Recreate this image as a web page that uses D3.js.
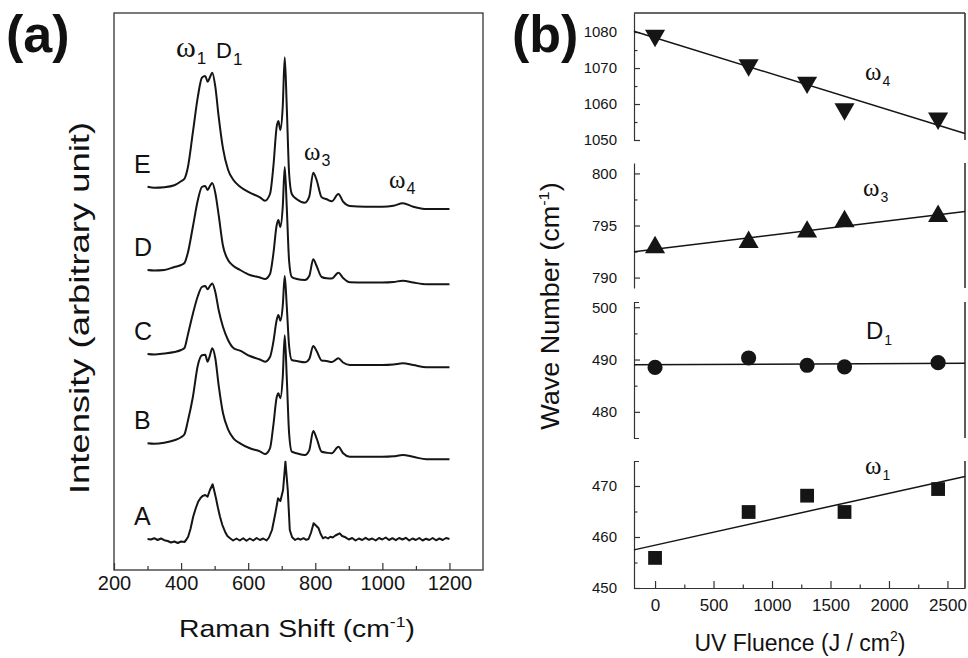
<!DOCTYPE html>
<html>
<head>
<meta charset="utf-8">
<script src="https://cdn.jsdelivr.net/npm/d3@7"></script>
<style>
  body { margin: 0; background: #fff; }
  svg { display: block; }
  text { font-family: "Liberation Sans", Arial, sans-serif; fill: #111; }
</style>
</head>
<body>
<div id="chart"></div>
<script>
// ---- panel (a): Raman spectra, net intensity above each trace's offset (a.u.)
const shifts = [300, 320, 350, 380, 400, 410, 420, 435, 450, 462, 472, 479, 486, 493, 502, 512, 525, 540, 556, 576,
  605, 635, 650, 665, 675, 685, 690, 696, 703, 709, 715, 722, 730, 745, 769, 782, 794, 804, 819, 834,
  849, 869, 883, 903, 950, 1000, 1033, 1061, 1092, 1132, 1170, 1200];

const spectrumE = [0, -1, -0.5, 1.5, 5.5, 8, 19, 54, 90, 109, 110.7, 105, 109.4, 114, 100, 70, 38, 17, 6.7, 0,
  -6, -10.6, -14, -7.3, 20, 60, 65.7, 56.7, 80, 129.4, 80, 13.4, -7.3, -12.6, -16, -10, 14, 6.7, -10.6, -12.6,
  -14.6, -7.3, -15, -19.3, -20, -20, -19, -16.6, -20, -22.3, -22.3, -22.3];
const spectrumD = [0, -0.5, 0, 3, 5, 7, 17, 43, 70, 83, 84, 80, 84, 87, 77, 55, 24, 10, 4, 0,
  -5, -7.5, -9, -4, 16, 45, 50, 43, 63, 103, 63, 9, -7, -9, -10, -6, 10.7, 4, -7, -8.3,
  -8.5, -2.7, -8, -12.3, -12.5, -12.5, -12, -10.7, -12.5, -14.3, -14.3, -14.3];
const spectrumC = [0, -0.5, 0.5, 2, 4, 6, 19, 40, 58, 67, 68, 64.7, 68, 70.6, 62, 44, 27, 14, 6, 3.3,
  -2, -5.5, -7.7, -3, 12, 34, 39, 33.3, 48, 78, 48, 8, -6, -7, -8.3, -5, 8, 3, -6.5, -7,
  -8, -4.3, -8.5, -11, -11, -11, -10.5, -9.3, -11, -13.3, -13.3, -13.3];
const spectrumB = [0, -0.5, 0.5, 3, 6, 9, 22, 46, 78, 88, 88.5, 81.6, 88, 95, 85, 58, 30, 14, 5, 0,
  -5, -8, -10.7, -5, 18, 46, 50, 45, 66, 108, 66, 10, -8.4, -10, -11.7, -7, 12.3, 5, -8.5, -9.4,
  -10, -3.4, -10, -13.4, -13.5, -13.5, -13, -11.7, -13.5, -16, -16, -16];

// trace A is noisy, so it is read on its own finer grid
const shiftsA = [300, 310, 320, 330, 340, 350, 360, 370, 380, 390, 400, 410, 415, 421, 428, 436, 444, 451, 458, 464,
  472, 479, 486, 494, 499, 504, 510, 516, 523, 531, 538, 546, 555, 565, 575, 585, 595, 605, 615, 625,
  635, 645, 655, 662, 671, 681, 689, 696, 704, 711, 718, 724, 731, 740, 748, 756, 765, 773, 780, 787,
  795, 802, 810, 816, 823, 830, 838, 845, 852, 860, 866, 873, 880, 890, 900, 910, 920, 930, 940, 950,
  960, 970, 980, 990, 1000, 1010, 1020, 1030, 1040, 1050, 1060, 1070, 1080, 1090, 1100, 1110, 1120, 1130, 1140, 1150,
  1160, 1170, 1180, 1190, 1200];
const spectrumA = [0, -0.5, 0.8, -1, 0.5, -1.2, -2, -3.5, -2.5, -4, -2.5, -3, -1, 2.3, 10, 22.3, 31, 37.3, 41, 43,
  44, 42.3, 49, 54.7, 48, 40.7, 31, 22.3, 14, 7.3, 3, 0.7, -1.5, 0.5, -1.5, 0.8, -1.8, 0.5, -1.5, 1,
  -1, 0.5, -1.5, 1.5, 9, 25.7, 40.7, 38, 49, 77.3, 49, 9, 1.7, -1, 0.5, -0.7, 0.8, -0.8, 0, 6,
  15.7, 13.5, 10.7, 5, 0.7, 2, 0.5, 2.3, 1.5, 3.5, 4.5, 5.7, 3, 1.7, -0.5, 1, -1.5, 0.5, -1, 1.2,
  -0.8, 0.5, -1.5, 1, -0.5, 1.5, -1, 0.8, -1.2, 1, -0.5, 1.2, -1.5, 0.5, -1, 1, -1.5, 0.3, -1, 1,
  -1.3, 0.5, -1, 1, 0];

const traceLabels = ["A", "B", "C", "D", "E"];
const traceOffsets = [31, 126.7, 216, 300, 383.3];
const ramanTicks = [200, 400, 600, 800, 1000, 1200];
const ramanMinorTicks = [300, 500, 700, 900, 1100];

// ---- panel (b): peak positions vs UV fluence
const fluence = [0, 800, 1300, 1620, 2420];
const omega4 = [1079, 1070.8, 1066, 1058.6, 1056];
const omega3 = [792.9, 793.4, 794.4, 795.4, 795.9];
const peakD1 = [488.5, 490.3, 488.9, 488.6, 489.4];
const omega1 = [455.9, 464.9, 468.1, 464.9, 469.4];
const fluenceTicks = [0, 500, 1000, 1500, 2000, 2500];
const fluenceMinorTicks = [250, 750, 1250, 1750, 2250];

const svg = d3.select("#chart").append("svg").attr("width", 968).attr("height", 658);
const ink = "#151515";
const sans = "Liberation Sans, Arial, sans-serif";
const plain = d3.format("d");

// ================= panel (a)
const xa = d3.scaleLinear().domain([200, 1300]).range([114, 483]);
const ya = d3.scaleLinear().domain([0, 557]).range([570, 13]);

const gA = svg.append("g");

gA.append("rect")
  .attr("x", xa(200)).attr("y", ya(557))
  .attr("width", xa(1300) - xa(200)).attr("height", ya(0) - ya(557))
  .style("fill", "none").style("stroke", "#333").style("stroke-width", 1.3);

const axA = gA.append("g")
  .attr("transform", `translate(0,${ya(0)})`)
  .call(d3.axisBottom(xa).tickValues(ramanTicks).tickFormat(plain).tickSize(-7).tickPadding(6));
axA.select(".domain").remove();
axA.selectAll("text").style("font-size", "20px").style("font-family", sans).style("fill", ink);
axA.selectAll("line").style("stroke", "#333").style("stroke-width", 1.2);

const axAm = gA.append("g")
  .attr("transform", `translate(0,${ya(0)})`)
  .call(d3.axisBottom(xa).tickValues(ramanMinorTicks).tickSize(-4).tickFormat(""));
axAm.select(".domain").remove();
axAm.selectAll("line").style("stroke", "#333").style("stroke-width", 1.2);

const lineA = d3.line().x(d => xa(d[0])).y(d => ya(d[1]));
const smoothA = d3.line().x(d => xa(d[0])).y(d => ya(d[1])).curve(d3.curveMonotoneX);

const traces = [
  { xs: shiftsA, ys: spectrumA, gen: lineA },
  { xs: shifts, ys: spectrumB, gen: smoothA },
  { xs: shifts, ys: spectrumC, gen: smoothA },
  { xs: shifts, ys: spectrumD, gen: smoothA },
  { xs: shifts, ys: spectrumE, gen: smoothA },
];

traces.forEach((t, k) => {
  const pts = t.xs.map((s, i) => [s, t.ys[i] + traceOffsets[k]]);
  gA.append("path")
    .attr("d", t.gen(pts))
    .style("fill", "none")
    .style("stroke", ink)
    .style("stroke-width", 2)
    .style("stroke-linejoin", "round");

  gA.append("text")
    .attr("x", 134)
    .attr("y", ya(traceOffsets[k]) - 14)
    .style("font-size", "25px")
    .text(traceLabels[k]);
});

// peak labels
function peakLabel(g, x, y, sym, sub, symSize, subSize, serif) {
  const t = g.append("text").attr("x", x).attr("y", y);
  t.append("tspan")
    .style("font-family", serif ? "Liberation Serif, serif" : sans)
    .style("font-size", symSize + "px")
    .text(sym);
  t.append("tspan")
    .attr("dy", subSize * 0.4)
    .attr("dx", 1)
    .style("font-size", subSize + "px")
    .text(sub);
}
peakLabel(gA, 176, 57, "\u03c9", "1", 30, 17, true);
peakLabel(gA, 216, 58, "D", "1", 22, 17, false);
peakLabel(gA, 304, 160, "\u03c9", "3", 25, 16, true);
peakLabel(gA, 389, 188, "\u03c9", "4", 25, 16, true);

// axis titles
const titleA = svg.append("text")
  .attr("text-anchor", "middle")
  .attr("transform", "translate(297,637) scale(1.18,1)")
  .style("font-size", "24px");
titleA.append("tspan").text("Raman Shift (cm");
titleA.append("tspan").attr("dy", -10).style("font-size", "15px").text("-1");
titleA.append("tspan").attr("dy", 10).text(")");

svg.append("text")
  .attr("text-anchor", "middle")
  .attr("transform", "translate(89,308) rotate(-90) scale(1.3,1)")
  .style("font-size", "28px")
  .text("Intensity (arbitrary unit)");

svg.append("text").attr("x", 6).attr("y", 52)
  .style("font-size", "52px").style("font-weight", "bold").text("(a)");

// ================= panel (b)
const xb = d3.scaleLinear().domain([-180, 2650]).range([634, 965]);
const gB = svg.append("g");

const subplots = [
  { ys: omega4, domain: [1050, 1085.3], range: [140, 13], ticks: [1050, 1060, 1070, 1080], minor: [1055, 1065, 1075],
    symbol: d3.symbolTriangle, size: 175, rotate: 180, cap: 0, label: ["\u03c9", "4"], lx: 865, ly: 80 },
  { ys: omega3, domain: [789, 801], range: [288, 163], ticks: [790, 795, 800], minor: [792.5, 797.5],
    symbol: d3.symbolTriangle, size: 175, rotate: 0, cap: 0, label: ["\u03c9", "3"], lx: 863, ly: 196 },
  { ys: peakD1, domain: [475, 501], range: [438, 302], ticks: [480, 490, 500], minor: [485, 495],
    symbol: d3.symbolCircle, size: 180, rotate: 0, cap: -5, label: ["D", "1"], lx: 866, ly: 339 },
  { ys: omega1, domain: [450, 474.9], range: [588, 461], ticks: [450, 460, 470], minor: [455, 465],
    symbol: d3.symbolSquare, size: 190, rotate: 0, cap: -5, label: ["\u03c9", "1"], lx: 865, ly: 474 },
];

subplots.forEach(p => {
  const yb = d3.scaleLinear().domain(p.domain).range(p.range);

  const ax = gB.append("g")
    .attr("transform", `translate(${xb.range()[0]},0)`)
    .call(d3.axisLeft(yb).tickValues(p.ticks).tickFormat(plain).tickSizeInner(-6).tickSizeOuter(p.cap).tickPadding(17));
  ax.selectAll("text").style("font-size", "15px").style("font-family", sans).style("fill", ink);
  ax.selectAll("line, path").style("stroke", "#333").style("stroke-width", 1.2);

  const axm = gB.append("g")
    .attr("transform", `translate(${xb.range()[0]},0)`)
    .call(d3.axisLeft(yb).tickValues(p.minor).tickSize(-3.5).tickFormat(""));
  axm.select(".domain").remove();
  axm.selectAll("line").style("stroke", "#333").style("stroke-width", 1.2);

  // right border
  gB.append("line")
    .attr("x1", xb.range()[1]).attr("x2", xb.range()[1])
    .attr("y1", yb.range()[0]).attr("y2", yb.range()[1])
    .style("stroke", "#333").style("stroke-width", 1.6);

  // least-squares fit line
  const mx = d3.mean(fluence), my = d3.mean(p.ys);
  const slope = d3.sum(fluence, (f, i) => (f - mx) * (p.ys[i] - my)) / d3.sum(fluence, f => (f - mx) ** 2);
  const fit = xb.domain().map(f => [f, my + slope * (f - mx)]);
  gB.append("path")
    .attr("d", d3.line().x(d => xb(d[0])).y(d => yb(d[1]))(fit))
    .style("fill", "none").style("stroke", ink).style("stroke-width", 1.5);

  gB.selectAll(null)
    .data(fluence)
    .enter()
    .append("path")
    .attr("d", d3.symbol().type(p.symbol).size(p.size))
    .attr("transform", (f, i) => `translate(${xb(f)},${yb(p.ys[i])}) rotate(${p.rotate})`)
    .style("fill", ink);

  const isD = p.label[0] === "D";
  peakLabel(gB, p.lx, p.ly, p.label[0], p.label[1], isD ? 24 : 25, 14, !isD);
});

// top border of upper plot
gB.append("line")
  .attr("x1", xb.range()[0]).attr("x2", xb.range()[1])
  .attr("y1", 13).attr("y2", 13)
  .style("stroke", "#333").style("stroke-width", 1.3);

const axB = gB.append("g")
  .attr("transform", "translate(0,588)")
  .call(d3.axisBottom(xb).tickValues(fluenceTicks).tickFormat(plain).tickSizeInner(-7).tickSizeOuter(0).tickPadding(11));
axB.selectAll("text").style("font-size", "17px").style("font-family", sans).style("fill", ink);
axB.selectAll("line, path").style("stroke", "#333").style("stroke-width", 1.2);

const axBm = gB.append("g")
  .attr("transform", "translate(0,588)")
  .call(d3.axisBottom(xb).tickValues(fluenceMinorTicks).tickSize(-3.5).tickFormat(""));
axBm.select(".domain").remove();
axBm.selectAll("line").style("stroke", "#333").style("stroke-width", 1.2);

const titleB = svg.append("text")
  .attr("text-anchor", "middle")
  .attr("x", 800).attr("y", 651)
  .style("font-size", "23px");
titleB.append("tspan").text("UV Fluence (J / cm");
titleB.append("tspan").attr("dy", -10).style("font-size", "14px").text("2");
titleB.append("tspan").attr("dy", 10).text(")");

const ylabB = svg.append("text")
  .attr("text-anchor", "middle")
  .attr("transform", "translate(559,306) rotate(-90) scale(1.08,1)")
  .style("font-size", "25px");
ylabB.append("tspan").text("Wave Number (cm");
ylabB.append("tspan").attr("dy", -10).style("font-size", "15px").text("-1");
ylabB.append("tspan").attr("dy", 10).text(")");

svg.append("text").attr("x", 512).attr("y", 52)
  .style("font-size", "52px").style("font-weight", "bold").text("(b)");
</script>
</body>
</html>
